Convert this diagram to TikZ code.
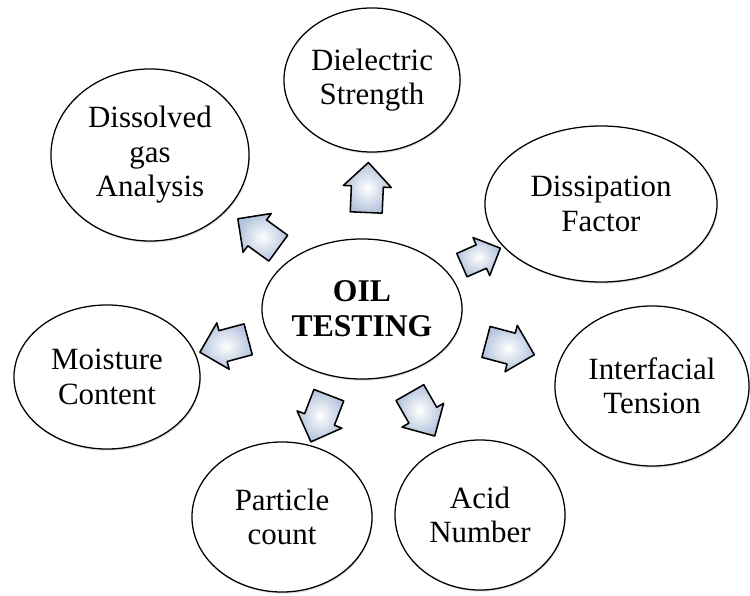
\documentclass[tikz,border=0pt]{standalone}
\usepackage{fontspec}
\setmainfont{Liberation Serif}
\usetikzlibrary{shapes.geometric,shapes.arrows,shadows}
\definecolor{arrowblue}{HTML}{B3C3DC}
\tikzset{
  topic/.style={ellipse,draw=black,line width=0.9pt,fill=white,align=center,inner sep=0pt,
    font=\fontsize{22}{24.5}\selectfont,
    drop shadow={opacity=0.25,shadow xshift=0.6pt,shadow yshift=-1.2pt}},
  hub/.style={topic,font=\fontsize{22.5}{25}\selectfont\bfseries},
  fatarrow/.style={single arrow,draw=black,line width=1.1pt,line join=round,
    inner color=white,outer color=arrowblue,inner xsep=0pt,inner ysep=0.38cm,
    minimum height=1.25cm,
    single arrow head extend=0.2cm,single arrow tip angle=90,
    sloped,allow upside down}
}

\begin{document}
\begin{tikzpicture}[x=0.025cm,y=-0.025cm]
  \useasboundingbox (0,0) rectangle (750,596);

  % centre
  \node[hub,minimum width=5cm,minimum height=3.5cm] (oil) at (362,309) {OIL\\TESTING};

  % tests round it
  \node[topic,minimum width=4.4cm,minimum height=3.6cm] (diel) at (372,80) {Dielectric\\Strength};
  \node[topic,minimum width=4.95cm,minimum height=4.3cm] (dga) at (150,155) {Dissolved\\gas\\Analysis};
  \node[topic,minimum width=5.8cm,minimum height=3.9cm] (dissip) at (601,204) {Dissipation\\Factor};
  \node[topic,minimum width=4.65cm,minimum height=3.6cm] (moist) at (107,377) {Moisture\\Content};
  \node[topic,minimum width=4.85cm,minimum height=4cm] (ift) at (652,386) {Interfacial\\Tension};
  \node[topic,minimum width=4.5cm,minimum height=3.75cm] (part) at (282,517) {Particle\\count};
  \node[topic,minimum width=4.25cm,minimum height=3.75cm] (acid) at (480,515) {Acid\\Number};

  % block arrows
  \path (oil) -- node[fatarrow]{} (diel);
  \path (oil) -- node[fatarrow,pos=0.42]{} (dga);
  \path (oil) -- node[fatarrow,minimum height=1.05cm,inner ysep=0.3cm]{} (dissip);
  \path (oil) -- node[fatarrow]{} (moist);
  \path (oil) -- node[fatarrow,pos=0.45]{} (ift);
  \path (oil) -- node[fatarrow]{} (part);
  \path (oil) -- node[fatarrow,pos=0.45]{} (acid);
\end{tikzpicture}
\end{document}
